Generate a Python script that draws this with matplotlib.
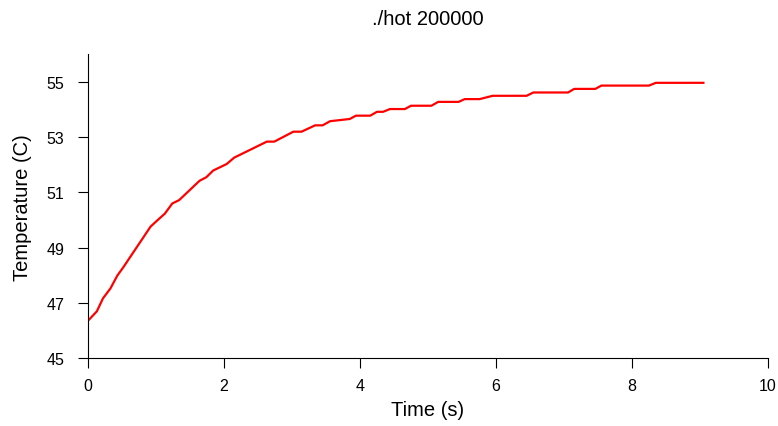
import matplotlib
matplotlib.use("Agg")
import matplotlib.pyplot as plt

plt.rcParams['font.family'] = ['Liberation Sans', 'DejaVu Sans']

# temperature log
time_s = [0, 0.13, 0.22, 0.33, 0.43, 0.52, 0.92, 1.03, 1.13, 1.24, 1.34,
          1.64, 1.74, 1.84, 2.04, 2.15, 2.63, 2.74, 3.02, 3.14, 3.34, 3.45,
          3.56, 3.85, 3.94, 4.15, 4.25, 4.34, 4.44, 4.66, 4.75, 5.05, 5.15,
          5.45, 5.54, 5.76, 5.95, 6.45, 6.55, 7.06, 7.15, 7.46, 7.55, 8.25,
          8.35, 9.05]
temp_c = [46.35, 46.69, 47.16, 47.52, 47.98, 48.29, 49.76, 50.01, 50.23,
          50.60, 50.72, 51.42, 51.55, 51.79, 52.03, 52.26, 52.84, 52.84,
          53.20, 53.20, 53.43, 53.43, 53.58, 53.66, 53.78, 53.78, 53.92,
          53.92, 54.02, 54.02, 54.14, 54.14, 54.28, 54.28, 54.38, 54.38,
          54.50, 54.50, 54.62, 54.62, 54.75, 54.75, 54.87, 54.87, 54.97,
          54.97]

xticks = [0, 2, 4, 6, 8, 10]
yticks = [45, 47, 49, 51, 53, 55]

fig = plt.figure(figsize=(7.78, 4.27), dpi=100)
ax = fig.add_axes([88/778, 68/427, 680/778, 303.6/427])

ax.plot(time_s, temp_c, color="red", lw=1.6)

ax.set_xlim(0, 10)
ax.set_ylim(45, 56)
ax.set_xticks(xticks)
ax.set_yticks(yticks)
ax.tick_params(direction='out', length=7.5, width=0.8, labelsize=11.5)
ax.tick_params(axis='x', pad=7)
ax.tick_params(axis='y', pad=9.5)

# R-ish look: only left and bottom lines
ax.spines['top'].set_visible(False)
ax.spines['right'].set_visible(False)
ax.spines['left'].set_bounds(45, 56)
for s in ['left', 'bottom']:
    ax.spines[s].set_linewidth(0.8)

ax.set_xlabel("Time (s)", fontsize=14.5, va='center')
ax.xaxis.set_label_coords(0.5, -0.171)
ax.set_ylabel("Temperature (C)", fontsize=14.5, va='center')
ax.yaxis.set_label_coords(-0.097, 0.5)
fig.text(428/778, 1 - 19.5/427, "./hot 200000", ha='center', va='center', fontsize=14.5)

fig.savefig("out.png", dpi=100)
